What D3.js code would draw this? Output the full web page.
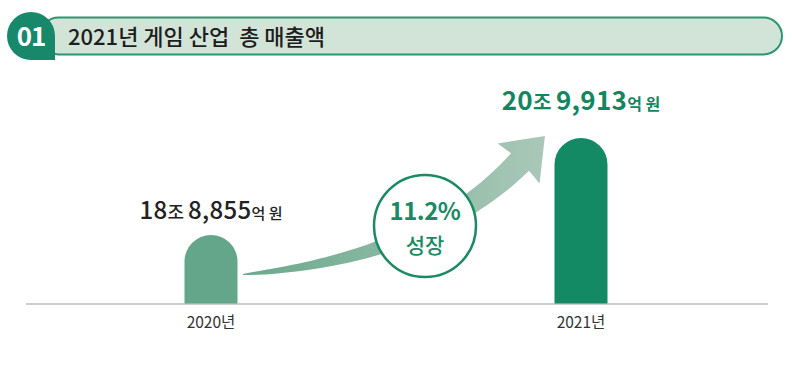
<!DOCTYPE html>
<html>
<head>
<meta charset="utf-8">
<script src="https://cdn.jsdelivr.net/npm/d3@7"></script>
<style>
  body { margin: 0; background: #fff; }
  svg { display: block; font-family: "Noto Sans CJK KR", "Noto Sans", sans-serif; }
</style>
</head>
<body>
<svg id="chart" width="792" height="371"></svg>
<script>
const years = ['2020년', '2021년'];
const revenue = [188855, 209913];            // 억 원
const labelMain = [['18', '조 ', '8,855', '억 원'], ['20', '조 ', '9,913', '억 원']];
const growthText = ['11.2%', '성장'];
const titleText = '2021년 게임 산업  총 매출액';
const badgeText = '01';

(function() {
  const svg = d3.select('#chart');
  const base = 303.5;

  // header
  svg.append('rect')
    .attr('x', 40).attr('y', 17.5).attr('width', 742).attr('height', 37)
    .attr('rx', 18.5)
    .attr('fill', '#d2e3d8').attr('stroke', '#2a9670').attr('stroke-width', 2);
  let b = d3.path();
  b.moveTo(7, 36);
  b.arc(31, 36, 24, Math.PI, Math.PI * 2);
  b.lineTo(55, 60);
  b.lineTo(31, 60);
  b.arc(31, 36, 24, Math.PI / 2, Math.PI);
  b.closePath();
  svg.append('path').attr('d', b.toString()).attr('fill', '#17886a');
  svg.append('text')
    .attr('x', 31).attr('y', 46).attr('text-anchor', 'middle')
    .attr('fill', '#fff').attr('font-size', 26).attr('font-weight', 700)
    .attr('letter-spacing', -1)
    .text(badgeText);
  svg.append('text')
    .attr('x', 68).attr('y', 45).attr('fill', '#1e1e1e')
    .attr('font-size', 22).attr('font-weight', 500)
    .attr('xml:space', 'preserve')
    .text(titleText);

  // scales
  const x = d3.scalePoint().domain(years).range([211, 581]);
  const y = d3.scaleLinear().domain([174000, 209913]).range([base, 138]);
  const barW = 53;

  // baseline
  svg.append('line')
    .attr('x1', 26).attr('x2', 768).attr('y1', base + 0.5).attr('y2', base + 0.5)
    .attr('stroke', '#bdbdbd').attr('stroke-width', 1.5);

  // growth arrow (tapered quadratic curve)
  const defs = svg.append('defs');
  const grad = defs.append('linearGradient').attr('id', 'arrowGrad')
    .attr('gradientUnits', 'userSpaceOnUse')
    .attr('x1', x(years[0]) + 32).attr('x2', x(years[1]) - 40).attr('y1', 0).attr('y2', 0);
  grad.append('stop').attr('offset', 0).attr('stop-color', '#6aa98d');
  grad.append('stop').attr('offset', 1).attr('stop-color', '#a9c7b8');

  const p0 = [x(years[0]) + 32, base - 29];
  const p2 = [x(years[1]) - 61, y(revenue[1]) + 24];
  const p1 = [428, 258];
  const q = t => [
    (1 - t) * (1 - t) * p0[0] + 2 * t * (1 - t) * p1[0] + t * t * p2[0],
    (1 - t) * (1 - t) * p0[1] + 2 * t * (1 - t) * p1[1] + t * t * p2[1]
  ];
  const dq = t => [
    2 * (1 - t) * (p1[0] - p0[0]) + 2 * t * (p2[0] - p1[0]),
    2 * (1 - t) * (p1[1] - p0[1]) + 2 * t * (p2[1] - p1[1])
  ];
  const top = [], bot = [];
  d3.range(0, 1.0001, 0.02).forEach(t => {
    const p = q(t), d = dq(t);
    const len = Math.hypot(d[0], d[1]);
    const n = [-d[1] / len, d[0] / len];
    const w = (1 + 24 * Math.pow(t, 0.7)) / 2;
    top.push([p[0] - n[0] * w, p[1] - n[1] * w]);
    bot.push([p[0] + n[0] * w, p[1] + n[1] * w]);
  });
  const dEnd = dq(1), lEnd = Math.hypot(dEnd[0], dEnd[1]);
  const u = [dEnd[0] / lEnd, dEnd[1] / lEnd], nn = [-u[1], u[0]];
  const tip = [p2[0] + u[0] * 36, p2[1] + u[1] * 36];
  const barbA = [p2[0] - nn[0] * 29 - u[0] * 2, p2[1] - nn[1] * 29 - u[1] * 2];
  const barbB = [p2[0] + nn[0] * 29 - u[0] * 2, p2[1] + nn[1] * 29 - u[1] * 2];
  const pts = top.concat([barbA, tip, barbB]).concat(bot.reverse());
  svg.append('path')
    .attr('d', d3.line()(pts) + 'Z')
    .attr('fill', 'url(#arrowGrad)');

  // bars with rounded tops
  const colors = ['#63a68a', '#138a64'];
  svg.selectAll('path.bar')
    .data(revenue)
    .enter()
    .append('path')
    .attr('class', 'bar')
    .attr('fill', (d, i) => colors[i])
    .attr('d', (d, i) => {
      const cx = x(years[i]), r = barW / 2, t = y(d);
      const p = d3.path();
      p.moveTo(cx - r, base);
      p.lineTo(cx - r, t + r);
      p.arc(cx, t + r, r, Math.PI, Math.PI * 2);
      p.lineTo(cx + r, base);
      p.closePath();
      return p.toString();
    });

  // value labels
  const lab = svg.selectAll('text.val')
    .data(revenue)
    .enter()
    .append('text')
    .attr('class', 'val')
    .attr('x', (d, i) => x(years[i]))
    .attr('y', (d, i) => y(d) - (i === 1 ? 28 : 16))
    .attr('text-anchor', 'middle')
    .attr('fill', (d, i) => i === 1 ? '#14865f' : '#222')
    .attr('font-weight', (d, i) => i === 1 ? 700 : 500)
    .attr('xml:space', 'preserve');
  lab.each(function(d, i) {
    const parts = labelMain[i];
    const big = i === 1 ? 26 : 24, mid = i === 1 ? 20 : 18, small = i === 1 ? 16 : 15;
    const sizes = [big, mid, big, small];
    const sel = d3.select(this);
    parts.forEach((s, k) => {
      sel.append('tspan').attr('font-size', sizes[k])
        .attr('letter-spacing', k % 2 === 0 ? 0.3 : 0).text(s);
    });
  });

  // year labels
  svg.selectAll('text.year')
    .data(years)
    .enter()
    .append('text')
    .attr('class', 'year')
    .attr('x', d => x(d))
    .attr('y', 328)
    .attr('text-anchor', 'middle')
    .attr('fill', '#333')
    .attr('font-size', 15.5)
    .text(d => d);

  // growth circle
  const cx = (x(years[0]) + x(years[1])) / 2 + 29, cy = 226;
  svg.append('circle')
    .attr('cx', cx).attr('cy', cy).attr('r', 51)
    .attr('fill', '#fff').attr('stroke', '#1a8a66').attr('stroke-width', 2.5);
  svg.selectAll('text.growth')
    .data(growthText)
    .enter()
    .append('text')
    .attr('class', 'growth')
    .attr('x', cx)
    .attr('y', (d, i) => i === 0 ? 220 : 253)
    .attr('text-anchor', 'middle')
    .attr('fill', '#1a8a66')
    .attr('font-weight', (d, i) => i === 0 ? 700 : 500)
    .attr('font-size', (d, i) => i === 0 ? 24 : 21)
    .attr('letter-spacing', (d, i) => i === 0 ? -0.5 : 0)
    .text(d => d);
})();
</script>
</body>
</html>
